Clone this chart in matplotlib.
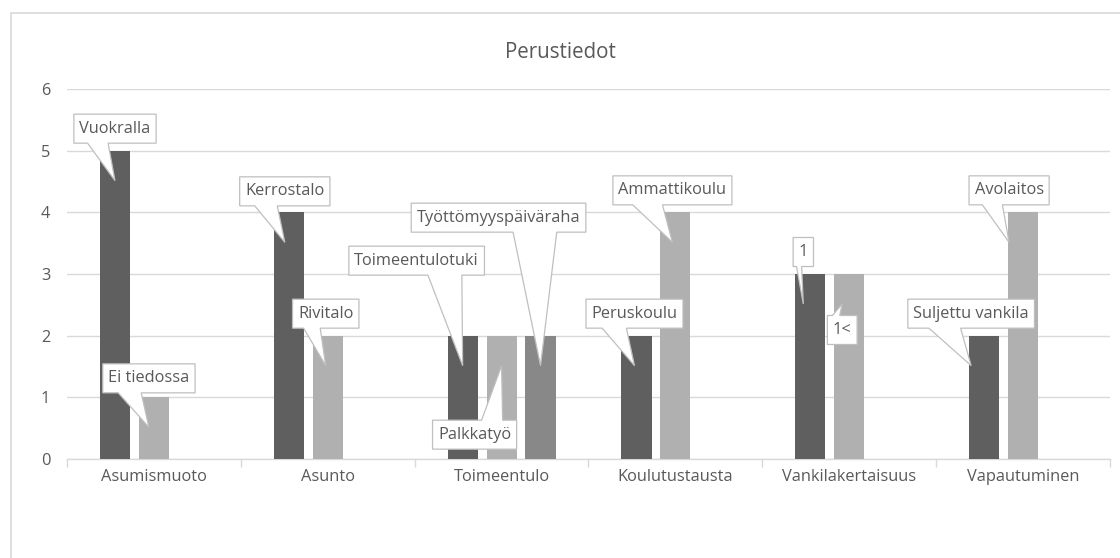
import matplotlib
matplotlib.use("Agg")
import matplotlib.pyplot as plt
import numpy as np
from matplotlib.patches import Polygon, Rectangle
from matplotlib.transforms import IdentityTransform

categories = ["Asumismuoto", "Asunto", "Toimeentulo", "Koulutustausta",
              "Vankilakertaisuus", "Vapautuminen"]
series1 = [5, 4, 2, 2, 3, 2]
series2 = [1, 2, 2, 4, 3, 4]
series3 = [None, None, 2, None, None, None]
labels1 = ["Vuokralla", "Kerrostalo", "Toimeentulotuki", "Peruskoulu", "1", "Suljettu vankila"]
labels2 = ["Ei tiedossa", "Rivitalo", "Palkkatyö", "Ammattikoulu", "1<", "Avolaitos"]
labels3 = [None, None, "Työttömyyspäiväraha", None, None, None]
yticks = [0, 1, 2, 3, 4, 5, 6]
title = "Perustiedot"

# layout (pixel offsets of callout box centre from bar top; +y = up)
offsets1 = [(0, 22), (-4, 21), (-46, 75), (-2, 22), (-7, 22), (-13, 22)]
offsets2 = [(-5, 19), (-2, 22), (-27, -99), (-3, 22), (-7, -56), (-14, 22)]
offsets3 = [None, None, (-42, 118), None, None, None]

colors = ["#5f5f5f", "#b0b0b0", "#888888"]
txt_color = "#595959"
grid_color = "#d9d9d9"
FONT = "Open Sans"
FS = 11.8

W, H = 1120, 558
fig = plt.figure(figsize=(W / 100, H / 100), dpi=100)
fig.patch.set_facecolor("white")

# chart border
fig.add_artist(Rectangle((11 / W, -0.05), 1.2, (H - 13) / H + 0.05, transform=fig.transFigure,
                         fill=False, edgecolor="#d9d9d9", lw=1.2))

ax = fig.add_axes([67 / W, (H - 459) / H, (1110 - 67) / W, (459 - 89) / H])
ax.set_xlim(-0.5, len(categories) - 0.5)
ax.set_ylim(0, 6)

bw = 0.173
offs = [-0.224, 0.0, 0.224]
x = np.arange(len(categories))
allseries = [series1, series2, series3]
for si, s in enumerate(allseries):
    vals = np.array([np.nan if v is None else v for v in s], dtype=float)
    ax.bar(x + offs[si], vals, width=bw, color=colors[si], zorder=3, linewidth=0)

ax.set_yticks(yticks)
ax.yaxis.grid(True, color=grid_color, lw=1.0, zorder=0)
ax.set_axisbelow(True)
for sp in ["top", "right", "left"]:
    ax.spines[sp].set_visible(False)
ax.spines["bottom"].set_color(grid_color)
ax.spines["bottom"].set_linewidth(1.0)
ax.tick_params(axis="y", length=0, pad=12, labelsize=FS, labelcolor=txt_color)
ax.set_xticks(x)
ax.set_xticklabels(categories, fontsize=FS, color=txt_color, fontname=FONT)
ax.tick_params(axis="x", length=0, pad=7)
for lbl in ax.get_yticklabels():
    lbl.set_fontname(FONT)
# category boundary ticks
ax.set_xticks(np.arange(-0.5, len(categories) + 0.5, 1.0), minor=True)
ax.tick_params(axis="x", which="minor", length=6, color=grid_color, width=1.0)

fig.text(0.5, 1 - 52 / H, title, ha="center", va="center", fontsize=14.8,
         color=txt_color, fontname=FONT)

# callout labels
texts = []
for si, (labs, offl) in enumerate([(labels1, offsets1), (labels2, offsets2), (labels3, offsets3)]):
    s = allseries[si]
    for ci, lab in enumerate(labs):
        if lab is None:
            continue
        bx = ci + offs[si]
        t = ax.annotate(lab, xy=(bx, s[ci]), xytext=offl[ci], textcoords="offset pixels",
                        ha="center", va="center", fontsize=FS, color=txt_color,
                        fontname=FONT, zorder=7, annotation_clip=False)
        texts.append((t, bx, s[ci]))

fig.canvas.draw()
renderer = fig.canvas.get_renderer()
for t, bx, val in texts:
    ext = t.get_window_extent(renderer)
    cx = (ext.x0 + ext.x1) / 2
    cy = (ext.y0 + ext.y1) / 2
    hw = ext.width / 2 + 5.5
    hh = 14.5
    l, r, b, tp = cx - hw, cx + hw, cy - hh, cy + hh
    barl = ax.transData.transform((bx - bw / 2, val))
    barr = ax.transData.transform((bx + bw / 2, val))
    bc = ax.transData.transform((bx, val))
    if barl[0] <= cx <= barr[0]:
        tipx = cx
    else:
        tipx = bc[0]
    tipy = bc[1] - 30
    wdt = r - l
    if tipx > cx + 2:
        b1, b2 = l + wdt * 7 / 12, l + wdt * 10 / 12
    else:
        b1, b2 = l + wdt * 2 / 12, l + wdt * 5 / 12
    if tipy < b:
        pts = [(l, b), (b1, b), (tipx, tipy), (b2, b), (r, b), (r, tp), (l, tp)]
    else:
        pts = [(l, b), (r, b), (r, tp), (b2, tp), (tipx, tipy), (b1, tp), (l, tp)]
    poly = Polygon(pts, closed=True, facecolor="white", edgecolor="#bfbfbf", lw=0.9,
                   transform=IdentityTransform(), zorder=5, clip_on=False)
    ax.add_patch(poly)

fig.savefig("out.png", dpi=100, facecolor="white")
